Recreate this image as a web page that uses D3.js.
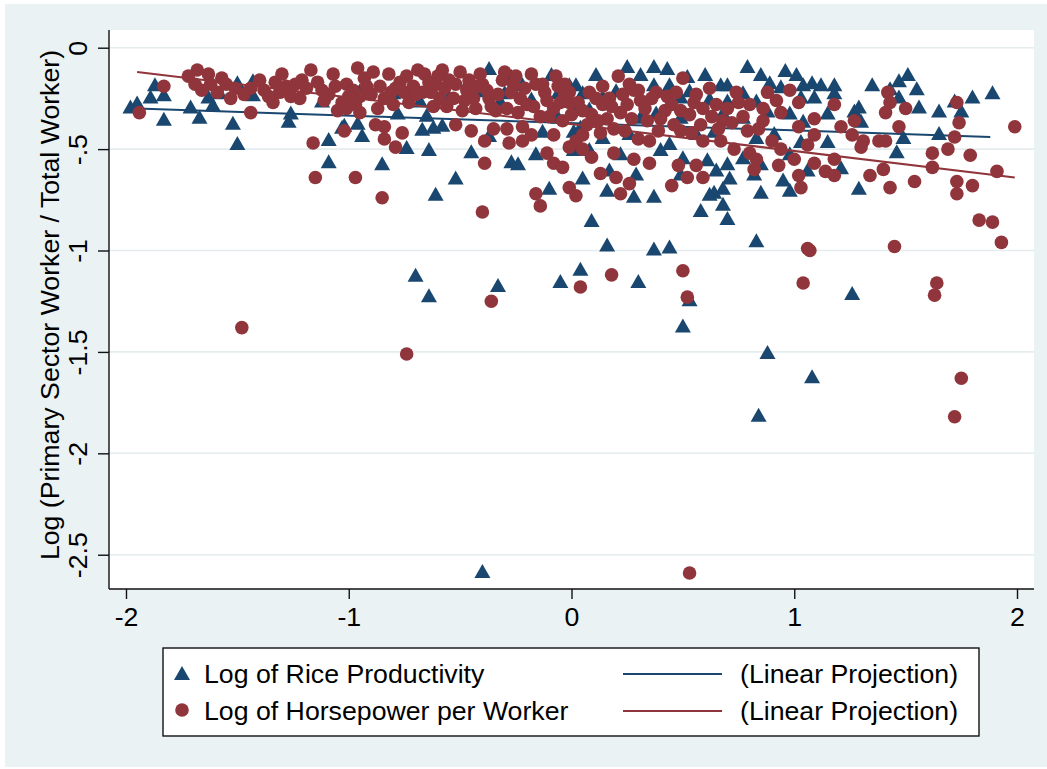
<!DOCTYPE html>
<html>
<head>
<meta charset="utf-8">
<script src="https://cdn.jsdelivr.net/npm/d3@7"></script>
<style>
  body { margin: 0; background: #fff; }
  svg text { font-family: "Liberation Sans", Arial, Helvetica, sans-serif; fill: #000; }
</style>
</head>
<body>
<div id="chart"></div>
<script>

// Data: [x, y]

var riceProductivity = [
  [-1.98,-0.29],[-1.95,-0.27],[-1.89,-0.24],[-1.87,-0.18],[-1.83,-0.23],[-1.83,-0.35],[-1.71,-0.29],[-1.67,-0.34],
  [-1.63,-0.24],[-1.61,-0.28],[-1.58,-0.22],[-1.52,-0.37],[-1.50,-0.47],[-1.50,-0.17],[-1.43,-0.16],[-1.43,-0.23],
  [-1.27,-0.36],[-1.26,-0.32],[-1.12,-0.26],[-1.09,-0.45],[-1.09,-0.56],[-1.03,-0.39],
  [-1.02,-0.38],[-0.96,-0.37],[-0.94,-0.43],[-0.85,-0.57],[-0.78,-0.32],[-0.74,-0.49],[-0.67,-0.40],[-0.65,-0.33],
  [-0.64,-0.50],[-0.62,-0.39],[-0.61,-0.72],[-0.58,-0.38],[-0.52,-0.64],[-0.46,-0.16],[-0.45,-0.51],[-0.37,-0.10],
  [-0.37,-0.43],[-0.32,-0.26],[-0.27,-0.56],[-0.24,-0.57],[-0.27,-0.14],[-0.22,-0.18],[-0.16,-0.52],[-0.13,-0.41],
  [-0.09,-0.13],[-0.01,-0.18],[-0.10,-0.69],[-0.06,-0.34],[0.01,-0.41],
  [-0.95,-0.21],[-0.80,-0.22],[-0.68,-0.26],[-0.55,-0.24],[-0.42,-0.21],[-0.30,-0.22],[-0.18,-0.25],[-0.06,-0.22],
  [0.11,-0.13],[0.25,-0.09],[0.31,-0.13],[0.37,-0.09],[0.43,-0.10],[0.52,-0.14],[0.60,-0.13],[0.67,-0.18],
  [0.70,-0.18],[0.79,-0.09],[0.85,-0.13],[0.89,-0.17],[0.96,-0.11],[1.01,-0.13],[0.02,-0.18],[0.05,-0.22],
  [0.14,-0.24],[0.20,-0.21],[0.37,-0.18],[0.44,-0.18],[0.49,-0.24],[0.53,-0.21],[0.62,-0.25],[0.70,-0.26],
  [0.77,-0.22],[0.83,-0.26],[0.94,-0.19],[1.03,-0.24],[0.02,-0.29],[0.08,-0.30],[0.31,-0.34],[0.38,-0.32],
  [0.49,-0.34],[0.68,-0.32],[0.77,-0.34],[0.88,-0.31],[0.98,-0.32],[0.04,-0.39],[0.14,-0.44],[0.26,-0.42],
  [0.44,-0.47],[0.56,-0.42],[0.64,-0.41],[0.83,-0.44],[0.91,-0.42],[1.03,-0.46],[0.01,-0.50],[0.08,-0.50],
  [0.22,-0.52],[0.40,-0.50],[0.50,-0.54],[0.61,-0.55],[0.70,-0.57],[0.77,-0.54],[0.85,-0.57],[0.98,-0.52],
  [0.05,-0.64],[0.17,-0.60],[0.29,-0.62],[0.49,-0.62],[0.65,-0.60],[0.71,-0.64],[0.82,-0.62],[0.95,-0.65],
  [0.16,-0.70],[0.37,-0.73],[0.62,-0.72],[0.68,-0.69],[0.85,-0.71],[0.98,-0.70],[0.28,-0.73],
  [1.08,-0.17],[1.12,-0.18],[1.18,-0.18],[1.35,-0.18],[1.43,-0.20],[1.47,-0.16],[1.51,-0.13],[1.55,-0.20],
  [1.09,-0.24],[1.18,-0.22],[1.47,-0.24],[1.56,-0.29],[1.65,-0.31],[1.72,-0.26],[1.75,-0.31],[1.80,-0.24],
  [1.89,-0.22],[1.15,-0.32],[1.27,-0.31],[1.29,-0.29],[1.30,-0.36],[1.15,-0.46],[1.49,-0.44],[1.65,-0.42],
  [1.46,-0.51],[1.04,-0.36],[1.06,-0.60],[1.21,-0.59],[1.29,-0.69],[1.04,-0.18],
  [-0.70,-1.12],[-0.64,-1.22],[-0.33,-1.17],[-0.40,-2.58],[-0.05,-1.15],[0.04,-1.09],[0.30,-1.15],[0.16,-0.97],
  [0.37,-0.99],[0.44,-0.98],[0.50,-1.37],[0.53,-1.24],[0.83,-0.95],[0.88,-1.50],[1.08,-1.62],[0.84,-1.81],
  [1.26,-1.21],[0.58,-0.80],[0.68,-0.77],[0.70,-0.84],[0.64,-0.71],[0.09,-0.85]
];

var horsepowerPerWorker = [
  [-1.94,-0.32],[-1.83,-0.19],[-1.72,-0.14],[-1.68,-0.11],[-1.69,-0.18],[-1.63,-0.13],[-1.62,-0.18],[-1.59,-0.22],
  [-1.55,-0.18],[-1.51,-0.20],[-1.47,-0.23],[-1.44,-0.20],[-1.44,-0.32],[-1.38,-0.21],[-1.34,-0.27],[-1.33,-0.17],
  [-1.30,-0.13],[-1.31,-0.22],[-1.26,-0.24],[-1.24,-0.18],[-1.21,-0.16],[-1.22,-0.25],[-1.17,-0.11],[-1.16,-0.47],
  [-1.15,-0.64],[-1.12,-0.21],[-1.11,-0.26],[-1.07,-0.13],[-1.06,-0.19],[-1.03,-0.27],[-1.02,-0.41],
  [-1.66,-0.21],[-1.57,-0.15],[-1.53,-0.25],[-1.40,-0.16],[-1.36,-0.24],[-1.28,-0.19],[-1.19,-0.20],[-1.14,-0.17],
  [-1.09,-0.23],[-1.05,-0.31],
  [-0.96,-0.10],[-1.01,-0.18],[-1.01,-0.30],[-0.95,-0.32],[-0.92,-0.19],[-0.88,-0.38],[-0.84,-0.39],[-0.84,-0.45],
  [-0.86,-0.19],[-0.84,-0.25],[-0.79,-0.49],[-0.77,-0.17],[-0.76,-0.42],[-0.75,-0.22],[-0.69,-0.11],[-0.71,-0.19],
  [-0.66,-0.13],[-0.67,-0.22],[-0.61,-0.18],[-0.58,-0.11],[-0.59,-0.25],[-0.52,-0.18],[-0.52,-0.38],[-0.47,-0.21],
  [-0.45,-0.41],[-0.43,-0.30],[-0.40,-0.18],[-0.39,-0.46],[-0.39,-0.57],[-0.35,-0.40],[-0.34,-0.31],[-0.31,-0.16],
  [-0.29,-0.40],[-0.28,-0.47],[-0.26,-0.18],[-0.23,-0.25],[-0.22,-0.39],[-0.22,-0.46],[-0.18,-0.43],[-0.16,-0.18],
  [-0.14,-0.34],[-0.11,-0.52],[-0.08,-0.43],[-0.08,-0.57],[-0.06,-0.19],[-0.04,-0.36],[-0.04,-0.59],[-0.01,-0.49],
  [-0.01,-0.27],[-0.97,-0.64],[-0.85,-0.74],[-0.16,-0.72],[-0.01,-0.69],[-0.98,-0.21],[-0.95,-0.24],[-0.81,-0.22],
  [-0.40,-0.81],[-0.14,-0.78],[0.02,-0.73],
  [-0.93,-0.15],[-0.79,-0.20],[-0.63,-0.22],[-0.55,-0.16],[-0.48,-0.26],[-0.42,-0.19],[-0.37,-0.25],[-0.27,-0.22],
  [-0.20,-0.28],[-0.12,-0.22],[-0.08,-0.30],[-0.03,-0.23],
  [-1.00,-0.24],[-0.97,-0.28],[-0.90,-0.23],[-0.89,-0.12],[-0.87,-0.30],[-0.82,-0.13],[-0.80,-0.28],[-0.74,-0.14],
  [-0.73,-0.27],[-0.70,-0.23],[-0.64,-0.17],[-0.62,-0.29],[-0.60,-0.14],[-0.57,-0.20],[-0.56,-0.29],[-0.53,-0.25],
  [-0.50,-0.12],[-0.49,-0.31],[-0.46,-0.16],[-0.44,-0.25],[-0.41,-0.13],[-0.38,-0.21],[-0.36,-0.29],[-0.33,-0.23],
  [-0.30,-0.12],[-0.29,-0.30],[-0.25,-0.14],[-0.24,-0.32],[-0.21,-0.20],[-0.18,-0.13],[-0.17,-0.29],[-0.13,-0.18],
  [-0.11,-0.26],[-0.10,-0.34],[-0.07,-0.14],[-0.05,-0.27],[-0.03,-0.18],[0.00,-0.33],[-0.01,-0.22],
  [0.08,-0.22],[0.03,-0.27],[0.14,-0.19],[0.21,-0.14],[0.26,-0.18],[0.17,-0.25],[0.23,-0.23],[0.30,-0.21],
  [0.31,-0.26],[0.14,-0.28],[0.09,-0.33],[0.16,-0.35],[0.22,-0.32],[0.24,-0.41],[0.13,-0.42],[0.05,-0.43],
  [0.34,-0.36],[0.39,-0.41],[0.38,-0.22],[0.43,-0.24],[0.42,-0.31],[0.47,-0.22],[0.50,-0.15],[0.49,-0.31],
  [0.49,-0.41],[0.54,-0.42],[0.56,-0.23],[0.62,-0.20],[0.59,-0.30],[0.65,-0.28],[0.70,-0.30],[0.75,-0.27],
  [0.68,-0.36],[0.77,-0.34],[0.79,-0.41],[0.59,-0.46],[0.67,-0.46],[0.73,-0.50],[0.86,-0.36],[0.88,-0.22],
  [0.94,-0.32],[0.98,-0.21],[1.02,-0.27],[0.90,-0.46],[0.94,-0.50],[0.80,-0.52],[0.83,-0.55],[0.82,-0.60],
  [0.93,-0.58],[1.00,-0.55],[1.02,-0.63],[1.03,-0.69],[1.02,-0.39],[0.02,-0.46],[0.05,-0.50],[0.09,-0.54],
  [0.19,-0.52],[0.28,-0.55],[0.30,-0.45],[0.35,-0.46],[0.35,-0.57],[0.48,-0.58],[0.56,-0.58],[0.52,-0.64],
  [0.59,-0.64],[0.45,-0.68],[0.13,-0.62],[0.20,-0.64],[0.26,-0.67],[0.22,-0.72],
  [0.05,-0.31],[0.07,-0.38],[0.11,-0.25],[0.12,-0.36],[0.18,-0.29],[0.19,-0.40],[0.25,-0.28],[0.27,-0.35],
  [0.28,-0.21],[0.33,-0.30],[0.36,-0.25],[0.40,-0.35],[0.45,-0.28],[0.46,-0.38],[0.53,-0.33],[0.55,-0.27],
  [0.58,-0.38],[0.63,-0.34],[0.66,-0.40],[0.72,-0.37],[0.74,-0.22],[0.80,-0.28],[0.84,-0.40],[0.86,-0.30],
  [0.92,-0.26],
  [1.42,-0.22],[1.43,-0.27],[1.41,-0.32],[1.50,-0.30],[1.47,-0.39],[1.73,-0.27],[1.74,-0.37],[1.72,-0.44],
  [1.99,-0.39],[1.18,-0.28],[1.09,-0.35],[1.27,-0.36],[1.21,-0.39],[1.09,-0.43],[1.26,-0.43],[1.31,-0.46],
  [1.30,-0.49],[1.38,-0.46],[1.41,-0.46],[1.06,-0.48],[1.62,-0.52],[1.69,-0.50],[1.79,-0.53],[1.18,-0.55],
  [1.09,-0.57],[1.14,-0.61],[1.18,-0.63],[1.62,-0.59],[1.40,-0.60],[1.34,-0.63],[1.91,-0.61],[1.54,-0.66],
  [1.73,-0.66],[1.80,-0.68],[1.43,-0.69],[1.73,-0.72],
  [-1.48,-1.38],[-0.74,-1.51],[-0.36,-1.25],[0.53,-2.59],[0.04,-1.18],[0.18,-1.12],[0.50,-1.10],[0.52,-1.23],
  [1.06,-0.99],[1.07,-1.00],[1.04,-1.16],[1.45,-0.98],[1.64,-1.16],[1.63,-1.22],[1.75,-1.63],[1.72,-1.82],
  [1.83,-0.85],[1.89,-0.86],[1.93,-0.96]
];

// linear projections (end points)
var riceFit = [[-1.95, -0.30], [1.88, -0.44]];
var hpFit = [[-1.95, -0.12], [1.99, -0.64]];

var xTicks = [-2, -1, 0, 1, 2];
var yTicks = [0, -0.5, -1, -1.5, -2, -2.5];

var legendLabels = ["Log of Rice Productivity", "(Linear Projection)", "Log of Horsepower per Worker", "(Linear Projection)"];
var yTitle = "Log (Primary Sector Worker / Total Worker)";

// Colors (Stata s2color)

var navy = "#1a476f", maroon = "#90353b", bluishGray = "#eaf2f3";

var width = 1047, height = 769;
var plot = {left: 109, right: 1034, top: 30, bottom: 589};
var fontSize = "26.7px";

var svg = d3.select("#chart").append("svg")
  .attr("width", width)
  .attr("height", height);

// background
svg.append("rect")
  .attr("x", 5).attr("y", 4)
  .attr("width", width - 5).attr("height", height - 6)
  .attr("fill", bluishGray);

svg.append("rect")
  .attr("x", plot.left).attr("y", plot.top)
  .attr("width", plot.right - plot.left).attr("height", plot.bottom - plot.top)
  .attr("fill", "#fff");

// Scales

var x = d3.scaleLinear()
  .domain([-2.0763, 2.0763])
  .range([plot.left, plot.right]);

var y = d3.scaleLinear()
  .domain([-2.669, 0.0873])
  .range([plot.bottom, plot.top]);

var fmt = function(d) { return d === 0 ? "0" : String(d).replace("0.", "."); };

// gridlines
svg.append("g")
  .selectAll("line")
  .data(yTicks)
  .enter().append("line")
  .attr("x1", plot.left).attr("x2", plot.right)
  .attr("y1", function(d) { return y(d); })
  .attr("y2", function(d) { return y(d); })
  .attr("stroke", "#e4ecee")
  .attr("stroke-width", 1.6);

// Markers and fits

var triangle = "M0,-7L8,7L-8,7Z";
var line = d3.line()
  .x(function(d) { return x(d[0]); })
  .y(function(d) { return y(d[1]); });

svg.append("g")
  .selectAll("path")
  .data(riceProductivity)
  .enter().append("path")
  .attr("d", triangle)
  .attr("transform", function(d) { return "translate(" + x(d[0]) + "," + y(d[1]) + ")"; })
  .attr("fill", navy);

svg.append("path")
  .datum(riceFit)
  .attr("d", line)
  .attr("fill", "none")
  .attr("stroke", navy)
  .attr("stroke-width", 2);

svg.append("g")
  .selectAll("circle")
  .data(horsepowerPerWorker)
  .enter().append("circle")
  .attr("cx", function(d) { return x(d[0]); })
  .attr("cy", function(d) { return y(d[1]); })
  .attr("r", 6.8)
  .attr("fill", maroon);

svg.append("path")
  .datum(hpFit)
  .attr("d", line)
  .attr("fill", "none")
  .attr("stroke", maroon)
  .attr("stroke-width", 2);

// Axes

var yAxis = svg.append("g")
  .attr("transform", "translate(" + plot.left + ",0)")
  .call(d3.axisLeft(y).tickValues(yTicks).tickSize(11).tickFormat(fmt));

yAxis.selectAll("text")
  .attr("transform", "rotate(-90)")
  .attr("x", 0).attr("y", -22).attr("dy", 0)
  .attr("text-anchor", "middle")
  .style("font-size", fontSize);

var xAxis = svg.append("g")
  .attr("transform", "translate(0," + plot.bottom + ")")
  .call(d3.axisBottom(x).tickValues(xTicks).tickSize(10).tickFormat(fmt));

xAxis.selectAll("text")
  .attr("y", 37).attr("dy", 0)
  .style("font-size", fontSize);

svg.selectAll(".domain").attr("stroke", "#111").attr("stroke-width", 1.4);
svg.selectAll(".tick line").attr("stroke", "#111").attr("stroke-width", 1.4);
// plain axis lines, no outer tick stubs
yAxis.select(".domain").attr("d", "M0," + plot.top + "V" + plot.bottom);
xAxis.select(".domain").attr("d", "M" + plot.left + ",0H" + plot.right);

svg.append("text")
  .attr("transform", "translate(59,305) rotate(-90)")
  .attr("text-anchor", "middle")
  .style("font-size", fontSize)
  .text(yTitle);

// Legend

var legend = svg.append("g");

legend.append("rect")
  .attr("x", 163).attr("y", 648)
  .attr("width", 816).attr("height", 88)
  .attr("fill", "#fff")
  .attr("stroke", "#111")
  .attr("stroke-width", 1.4);

var rows = [673, 710];

legend.append("path")
  .attr("d", triangle)
  .attr("transform", "translate(182," + rows[0] + ")")
  .attr("fill", navy);

legend.append("circle")
  .attr("cx", 182).attr("cy", rows[1]).attr("r", 6.8)
  .attr("fill", maroon);

[navy, maroon].forEach(function(c, i) {
  legend.append("line")
    .attr("x1", 623).attr("x2", 722)
    .attr("y1", rows[i] + 1).attr("y2", rows[i] + 1)
    .attr("stroke", c).attr("stroke-width", 2);
});

legend.selectAll("text")
  .data(legendLabels)
  .enter().append("text")
  .attr("x", function(d, i) { return i % 2 === 0 ? 204 : 740; })
  .attr("y", function(d, i) { return rows[Math.floor(i / 2)] + 10; })
  .style("font-size", fontSize)
  .text(function(d) { return d; });

</script>
</body>
</html>
